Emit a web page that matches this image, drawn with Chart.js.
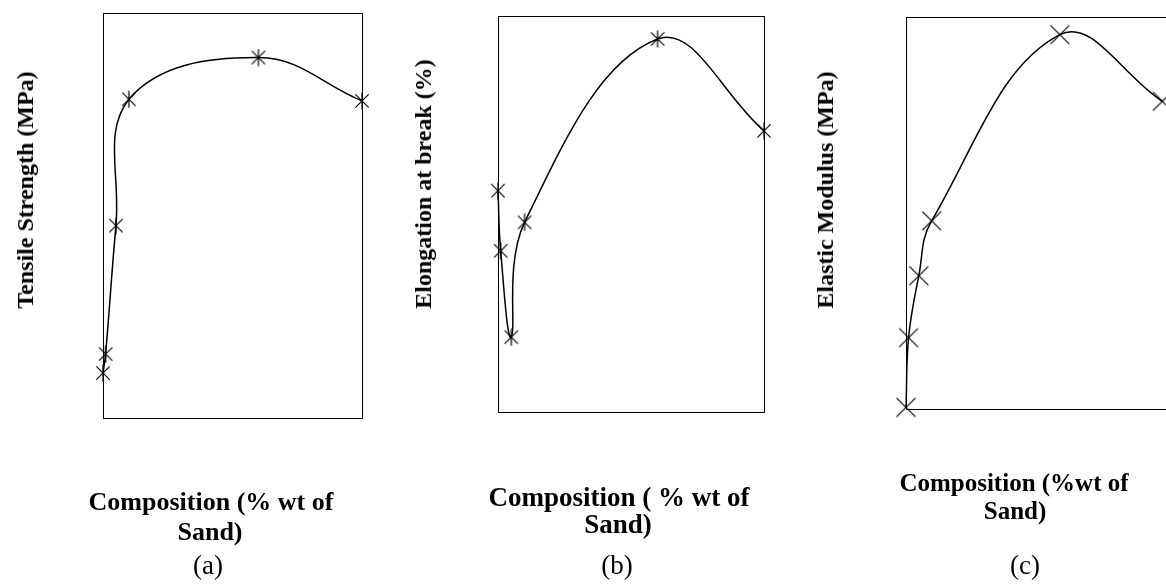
<!DOCTYPE html>
<html><head><meta charset="utf-8">
<script src="https://cdn.jsdelivr.net/npm/chart.js@4.4.1/dist/chart.umd.min.js"></script>
<style>
html,body{margin:0;padding:0;background:#fff;overflow:hidden;width:1166px;height:584px;}
canvas{position:absolute;left:0;top:0;}
.t{position:absolute;font-family:"Liberation Serif","Times New Roman",serif;color:#000;white-space:nowrap;transform:translate(-50%,-50%);line-height:1;}
.b{font-weight:bold;}
.yt{font-weight:bold;font-size:24px;transform:translate(-50%,-50%) rotate(-90deg);}
.p{font-size:27px;}
</style></head><body>
<div id="root"></div>
<script>
// ---- data (relative units: 0 = bottom of box, 100 = top) ----
const composition = [0, 1, 5, 10, 60, 100];
const tensileStrength = [11.1, 15.8, 47.5, 78.7, 89.0, 78.3];
const elongationAtBreak = [55.9, 40.7, 18.9, 47.9, 94.2, 71.0];
const elasticModulus = [0.4, 18.2, 34.0, 48.0, 95.5, 78.5];
const yTitles = ['Tensile Strength (MPa)', 'Elongation at break (%)', 'Elastic Modulus (MPa)'];
const xTitles = [['Composition (% wt of', 'Sand)'], ['Composition ( % wt of', 'Sand)'], ['Composition (%wt of', 'Sand)']];
const panelLabels = ['(a)', '(b)', '(c)'];

// ---- layout / style ----
const panels = [
  {values: tensileStrength, area: {l: 103, t: 13, r: 362, b: 418}, cw: 1166, xMax: 100, marker: 'star', msize: 18,
   yt: [25, 190], xfs: 26, xt: [[211, 502], [210, 532]], lab: [208, 565]},
  {values: elongationAtBreak, area: {l: 498, t: 16, r: 764, b: 412}, cw: 1166, xMax: 100, marker: 'star', msize: 18,
   yt: [423, 184], xfs: 27, xt: [[619, 497], [618, 524]], lab: [617, 565]},
  {values: elasticModulus, area: {l: 906, t: 17, r: 1168, b: 409}, cw: 1180, xMax: 102, marker: 'x', msize: 22,
   yt: [825, 190], xfs: 25, xt: [[1014, 482], [1015, 510]], lab: [1025, 565]}
];
const H = 584;

function makeMarker(kind, size) {
  const c = document.createElement('canvas');
  c.width = c.height = size;
  const g = c.getContext('2d');
  g.strokeStyle = '#000';
  g.lineWidth = 1.2;
  const h = size / 2, r = h - 0.5;
  const d = kind === 'star' ? r * 0.78 : r * 0.9;
  g.beginPath();
  g.moveTo(h - d, h - d); g.lineTo(h + d, h + d);
  g.moveTo(h + d, h - d); g.lineTo(h - d, h + d);
  if (kind === 'star') { g.moveTo(h, h - r); g.lineTo(h, h + r); }
  g.stroke();
  return c;
}

function axis(pos, min, max) {
  const horiz = pos === 'top' || pos === 'bottom';
  return {
    type: 'linear', position: pos, min: min, max: max,
    ticks: {display: false}, grid: {display: false, drawTicks: false},
    border: {display: true, color: '#000', width: 1},
    afterFit: s => { if (horiz) s.height = 0; else s.width = 0; }
  };
}

const root = document.getElementById('root');
function addText(text, cls, x, y, fs) {
  const d = document.createElement('div');
  d.className = 't ' + cls;
  d.textContent = text;
  d.style.left = x + 'px';
  d.style.top = y + 'px';
  if (fs) d.style.fontSize = fs + 'px';
  root.appendChild(d);
}

panels.forEach((p, i) => {
  const cv = document.createElement('canvas');
  cv.width = p.cw; cv.height = H;
  cv.style.width = p.cw + 'px'; cv.style.height = H + 'px';
  root.appendChild(cv);
  new Chart(cv, {
    type: 'scatter',
    data: {datasets: [{
      data: composition.map((x, k) => ({x: x, y: p.values[k]})),
      showLine: true, tension: 0.4, fill: false,
      borderColor: '#000', borderWidth: 1.5,
      pointStyle: makeMarker(p.marker, p.msize), pointRadius: p.msize / 2,
      clip: false
    }]},
    options: {
      responsive: false, animation: false, devicePixelRatio: 1, events: [],
      layout: {padding: {left: p.area.l, top: p.area.t, right: p.cw - p.area.r, bottom: H - p.area.b}},
      plugins: {legend: {display: false}, tooltip: {enabled: false}, title: {display: false}},
      scales: {
        x: axis('bottom', 0, p.xMax),
        x2: axis('top', 0, p.xMax),
        y: axis('left', 0, 100),
        y2: axis('right', 0, 100)
      }
    }
  });
  addText(yTitles[i], 'yt', p.yt[0], p.yt[1]);
  addText(xTitles[i][0], 'b', p.xt[0][0], p.xt[0][1], p.xfs);
  addText(xTitles[i][1], 'b', p.xt[1][0], p.xt[1][1], p.xfs);
  addText(panelLabels[i], 'p', p.lab[0], p.lab[1]);
});
</script>
</body></html>
